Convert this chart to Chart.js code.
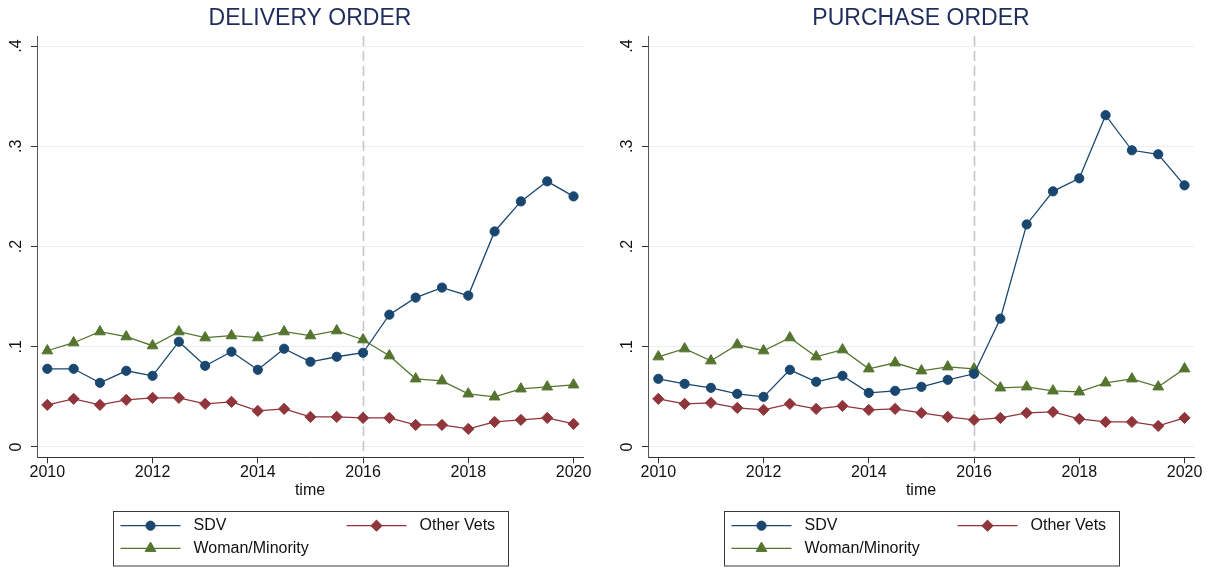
<!DOCTYPE html>
<html>
<head>
<meta charset="utf-8">
<script src="https://cdn.jsdelivr.net/npm/chart.js@4/dist/chart.umd.min.js"></script>
<style>
  body { margin: 0; background: #fff; overflow: hidden; }
  canvas { position: absolute; top: 0; }
  #delivery-chart { left: 0; }
  #purchase-chart { left: 611px; }
</style>
</head>
<body>
<canvas id="delivery-chart" width="611" height="568"></canvas>
<canvas id="purchase-chart" width="602" height="568"></canvas>
<script>
// half-year periods
var periods = [2010, 2010.5, 2011, 2011.5, 2012, 2012.5, 2013, 2013.5, 2014, 2014.5, 2015,
               2015.5, 2016, 2016.5, 2017, 2017.5, 2018, 2018.5, 2019, 2019.5, 2020];

var seriesNames = ['SDV', 'Other Vets', 'Woman/Minority'];

// delivery order shares
var deliverySDV   = [0.078, 0.078, 0.064, 0.076, 0.071, 0.105, 0.081, 0.095, 0.077, 0.098, 0.085,
                     0.090, 0.094, 0.132, 0.149, 0.159, 0.151, 0.215, 0.245, 0.265, 0.250];
var deliveryOther = [0.042, 0.048, 0.042, 0.047, 0.049, 0.049, 0.043, 0.045, 0.036, 0.038, 0.030,
                     0.030, 0.029, 0.029, 0.022, 0.022, 0.018, 0.025, 0.027, 0.029, 0.023];
var deliveryWM    = [0.096, 0.104, 0.115, 0.110, 0.101, 0.115, 0.109, 0.111, 0.109, 0.115, 0.111,
                     0.116, 0.107, 0.091, 0.068, 0.066, 0.053, 0.050, 0.058, 0.060, 0.062];

// purchase order shares
var purchaseSDV   = [0.068, 0.063, 0.059, 0.053, 0.050, 0.077, 0.065, 0.071, 0.054, 0.056, 0.060,
                     0.067, 0.073, 0.128, 0.222, 0.255, 0.268, 0.331, 0.296, 0.292, 0.261];
var purchaseOther = [0.048, 0.043, 0.044, 0.039, 0.037, 0.043, 0.038, 0.041, 0.037, 0.038, 0.034,
                     0.030, 0.027, 0.029, 0.034, 0.035, 0.028, 0.025, 0.025, 0.021, 0.029];
var purchaseWM    = [0.090, 0.098, 0.086, 0.102, 0.096, 0.109, 0.090, 0.097, 0.078, 0.084, 0.076,
                     0.080, 0.078, 0.059, 0.060, 0.056, 0.055, 0.064, 0.068, 0.060, 0.078];

var xTicks = [2010, 2012, 2014, 2016, 2018, 2020];
var yTicks = [0, 0.1, 0.2, 0.3, 0.4];
var yTickLabels = ['0', '.1', '.2', '.3', '.4'];
var policyYear = 2016;

Chart.defaults.font.family = '"Liberation Sans", Arial, sans-serif';
Chart.defaults.color = '#111';

// vertical dashed line at the policy year
var policyLine = {
    id: 'policyLine',
    beforeDatasetsDraw: function(chart) {
        var ctx = chart.ctx, area = chart.chartArea;
        var x = Math.round(chart.scales.x.getPixelForValue(policyYear)) + 0.5;
        ctx.save();
        ctx.strokeStyle = '#c6c6c6';
        ctx.lineWidth = 1.6;
        ctx.setLineDash([10, 5]);
        ctx.beginPath();
        ctx.moveTo(x, area.top);
        ctx.lineTo(x, area.bottom);
        ctx.stroke();
        ctx.restore();
    }
};

function drawMarker(ctx, style, r, x, y) {
    ctx.beginPath();
    if (style === 'circle') {
        ctx.arc(x, y, r, 0, Math.PI * 2);
    } else if (style === 'rectRot') {
        ctx.moveTo(x - r, y); ctx.lineTo(x, y - r); ctx.lineTo(x + r, y); ctx.lineTo(x, y + r);
    } else {
        ctx.moveTo(x, y - r);
        ctx.lineTo(x + r * Math.sqrt(3) / 2, y + r / 2);
        ctx.lineTo(x - r * Math.sqrt(3) / 2, y + r / 2);
    }
    ctx.closePath();
    ctx.fill();
    ctx.stroke();
}

// Stata-style boxed legend below the plot
var boxLegend = {
    id: 'boxLegend',
    afterDraw: function(chart) {
        var ctx = chart.ctx, area = chart.chartArea;
        var w = 395, h = 54.5;
        var left = Math.round((area.left + area.right) / 2 - w / 2) + 0.5;
        var top = 511.5;
        var slots = [[7, 525.7], [233, 525.7], [7, 548.3]];
        ctx.save();
        ctx.strokeStyle = '#3a3a3a';
        ctx.lineWidth = 1;
        ctx.strokeRect(left, top, w, h);
        chart.data.datasets.forEach(function(ds, i) {
            var x0 = left + slots[i][0], y = slots[i][1];
            ctx.strokeStyle = ds.borderColor;
            ctx.fillStyle = ds.borderColor;
            ctx.lineWidth = ds.borderWidth;
            ctx.beginPath();
            ctx.moveTo(x0, y);
            ctx.lineTo(x0 + 60, y);
            ctx.stroke();
            ctx.lineWidth = 1;
            drawMarker(ctx, ds.pointStyle, ds.pointRadius, x0 + 30, y);
            ctx.fillStyle = '#111';
            ctx.font = '16px "Liberation Sans", Arial, sans-serif';
            ctx.textBaseline = 'middle';
            ctx.textAlign = 'left';
            ctx.fillText(ds.label, x0 + 73, y);
        });
        ctx.restore();
    }
};

function toPoints(values) {
    return values.map(function(v, i) { return {x: periods[i], y: v}; });
}

function makeSeries(label, values, color, style, radius) {
    return {
        label: label,
        data: toPoints(values),
        borderColor: color,
        backgroundColor: color,
        borderWidth: 1.3,
        pointStyle: style,
        pointRadius: radius,
        pointBorderWidth: 1,
        pointBackgroundColor: color,
        pointBorderColor: color,
        tension: 0
    };
}

function makeChart(id, titleText, sdv, other, wm, padRight) {
    var ctx = document.getElementById(id).getContext('2d');
    return new Chart(ctx, {
        type: 'line',
        data: {
            datasets: [
                makeSeries(seriesNames[0], sdv, '#1a476f', 'circle', 4.6),
                makeSeries(seriesNames[1], other, '#90353b', 'rectRot', 5.6),
                makeSeries(seriesNames[2], wm, '#55752f', 'triangle', 6.2)
            ]
        },
        options: {
            responsive: false,
            animation: false,
            devicePixelRatio: 1,
            layout: { padding: { left: 0, right: padRight, top: 0, bottom: 67.4 } },
            plugins: {
                legend: { display: false },
                tooltip: { enabled: false },
                title: {
                    display: true,
                    text: titleText,
                    fullSize: false,
                    color: '#1f2d5c',
                    font: { size: 23, weight: 'normal' },
                    padding: { top: 4.5, bottom: 3.9 }
                }
            },
            scales: {
                x: {
                    type: 'linear',
                    min: 2009.804,
                    max: 2020.18,
                    afterBuildTicks: function(s) {
                        s.ticks = xTicks.map(function(v) { return {value: v}; });
                    },
                    afterFit: function(s) {
                        s.height = 43.3;
                        s.paddingLeft = 0;
                        s.paddingRight = 0;
                    },
                    ticks: {
                        color: '#111',
                        font: { size: 16 },
                        padding: 0,
                        maxRotation: 0,
                        callback: function(v) { return String(v); }
                    },
                    grid: {
                        drawOnChartArea: false,
                        drawTicks: true,
                        tickLength: 6,
                        tickColor: '#333',
                        color: '#333'
                    },
                    border: { display: true, color: '#333', width: 1 },
                    title: {
                        display: true,
                        text: 'time',
                        color: '#111',
                        font: { size: 16 },
                        padding: { top: 0, bottom: 0 }
                    }
                },
                y: {
                    type: 'linear',
                    min: -0.0103,
                    max: 0.41,
                    afterBuildTicks: function(s) {
                        s.ticks = yTicks.map(function(v) { return {value: v}; });
                    },
                    afterFit: function(s) {
                        s.width = 37;
                        s.paddingTop = 0;
                        s.paddingBottom = 0;
                    },
                    ticks: {
                        color: '#111',
                        font: { size: 16 },
                        minRotation: 90,
                        maxRotation: 90,
                        crossAlign: 'center',
                        padding: 7.8,
                        callback: function(v) {
                            var i = yTicks.indexOf(v);
                            return i >= 0 ? yTickLabels[i] : '';
                        }
                    },
                    grid: {
                        color: '#e9f0f2',
                        lineWidth: 1,
                        drawTicks: true,
                        tickLength: 6,
                        tickColor: '#333'
                    },
                    border: { display: true, color: '#555', width: 1 }
                }
            }
        },
        plugins: [policyLine, boxLegend]
    });
}

function initCharts() {
    makeChart('delivery-chart', 'DELIVERY ORDER', deliverySDV, deliveryOther, deliveryWM, 28);
    makeChart('purchase-chart', 'PURCHASE ORDER', purchaseSDV, purchaseOther, purchaseWM, 19);
}
document.addEventListener('DOMContentLoaded', initCharts);
</script>
</body>
</html>
